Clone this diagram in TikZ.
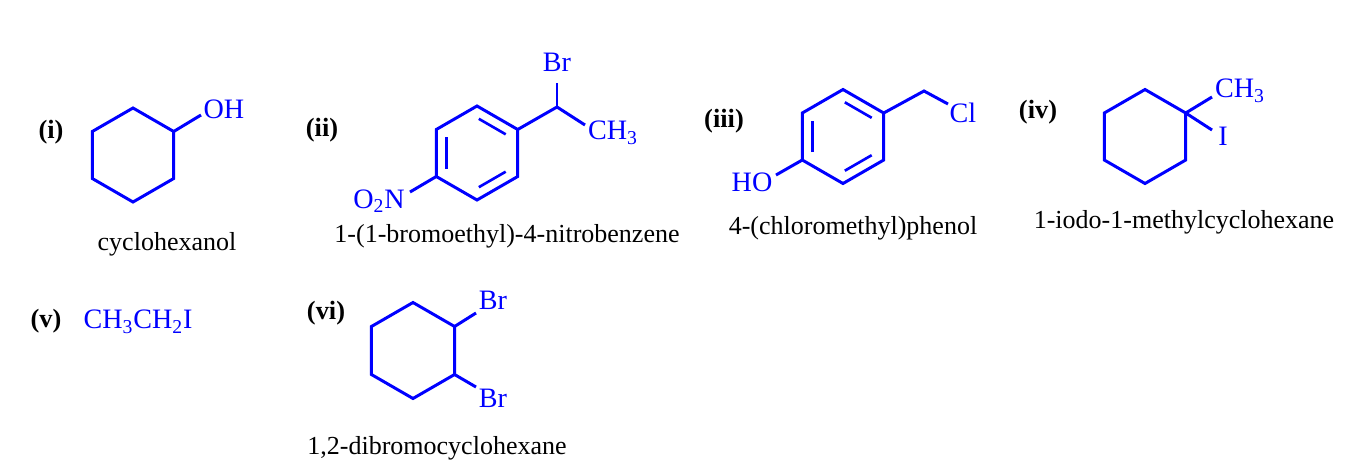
\documentclass[tikz,border=0pt]{standalone}
\usepackage{fontspec}
\setmainfont{Liberation Serif}
\usetikzlibrary{calc}

\newcommand{\ringat}[3]{%
  \coordinate (#1) at (#2);
  \foreach \k in {1,...,6}
    \coordinate (#1\k) at ($(#1)+(-150+60*\k:#3)$);
  \draw[bond] (#11) -- (#12) -- (#13) -- (#14) -- (#15) -- (#16) -- cycle;}
\newcommand{\arom}[1]{%
  \foreach \p/\q in {1/2,3/4,5/6}
    \draw[dbl] ($(#1)!0.75!(#1\p)$) -- ($(#1)!0.75!(#1\q)$);}

\begin{document}
\begin{tikzpicture}[x=0.02cm, y=-0.02cm,
    bond/.style={draw=blue, line width=1.7pt},
    dbl/.style={draw=blue, line width=1.5pt, shorten <=1.2pt, shorten >=1.2pt},
    atom/.style={text=blue, inner sep=0pt, font=\fontsize{16}{19}\selectfont},
    tag/.style={inner sep=0pt, font=\fontsize{15}{18}\selectfont\bfseries},
    cname/.style={inner sep=0pt, font=\fontsize{14.8}{17}\selectfont}
    ]
\useasboundingbox (0,0) rectangle (1366,474);

\node[tag] (ti) at (51,132) {(i)};
\ringat{ra}{133,155}{47}
\coordinate (raOt) at (201,115);
\node[atom] (OHa) at (224,109) {OH};
\draw[bond] (ra2) -- (raOt);
\node[cname] (na) at (167,244) {cyclohexanol};

\node[tag] (tii) at (322,130) {(ii)};
\ringat{rb}{477,153}{47}
\arom{rb}
\coordinate (rbC) at (557,107);
\coordinate (rbBrt) at (557,83);
\coordinate (rbMet) at (585,125);
\coordinate (rbNt) at (410,192);
\node[atom] (Brb) at (557,62) {Br};
\node[atom] (Meb) at (613,133) {CH\textsubscript{3}};
\node[atom] (NOb) at (379,201) {O\textsubscript{2}N};
\draw[bond] (rb2) -- (rbC) -- (rbMet);
\draw[bond] (rbC) -- (rbBrt);
\draw[bond] (rb5) -- (rbNt);
\node[cname] (nb) at (507,236) {1-(1-bromoethyl)-4-nitrobenzene};

\node[tag] (tiii) at (724,121) {(iii)};
\ringat{rc}{843,136.5}{47}
\arom{rc}
\coordinate (rcC) at (924,91);
\coordinate (rcClt) at (948,104);
\coordinate (rcOt) at (776,175);
\node[atom] (Clc) at (963,113) {Cl};
\node[atom] (HOc) at (752,182) {HO};
\draw[bond] (rc2) -- (rcC) -- (rcClt);
\draw[bond] (rc5) -- (rcOt);
\node[cname] (nc) at (853,228) {4-(chloromethyl)phenol};

\node[tag] (tiv) at (1038,112) {(iv)};
\ringat{rd}{1145,136.5}{47}
\coordinate (rdMet) at (1212,97);
\coordinate (rdIt) at (1212,130);
\node[atom] (Med) at (1240,91) {CH\textsubscript{3}};
\node[atom] (Id) at (1223,136) {I};
\draw[bond] (rd2) -- (rdMet);
\draw[bond] (rd2) -- (rdIt);
\node[cname] (nd) at (1184,222) {1-iodo-1-methylcyclohexane};

\node[tag] (tv) at (46,321) {(v)};
\node[atom] (Ev) at (138,322) {CH\textsubscript{3}CH\textsubscript{2}I};

\node[tag] (tvi) at (326,313) {(vi)};
\ringat{rf}{413,350.5}{48}
\coordinate (rfBt) at (476,313);
\coordinate (rfBbt) at (476,387);
\node[atom] (Brf) at (493,300) {Br};
\node[atom] (Brfb) at (493,398) {Br};
\draw[bond] (rf2) -- (rfBt);
\draw[bond] (rf3) -- (rfBbt);
\node[cname] (nf) at (437,448) {1,2-dibromocyclohexane};
\end{tikzpicture}
\end{document}
